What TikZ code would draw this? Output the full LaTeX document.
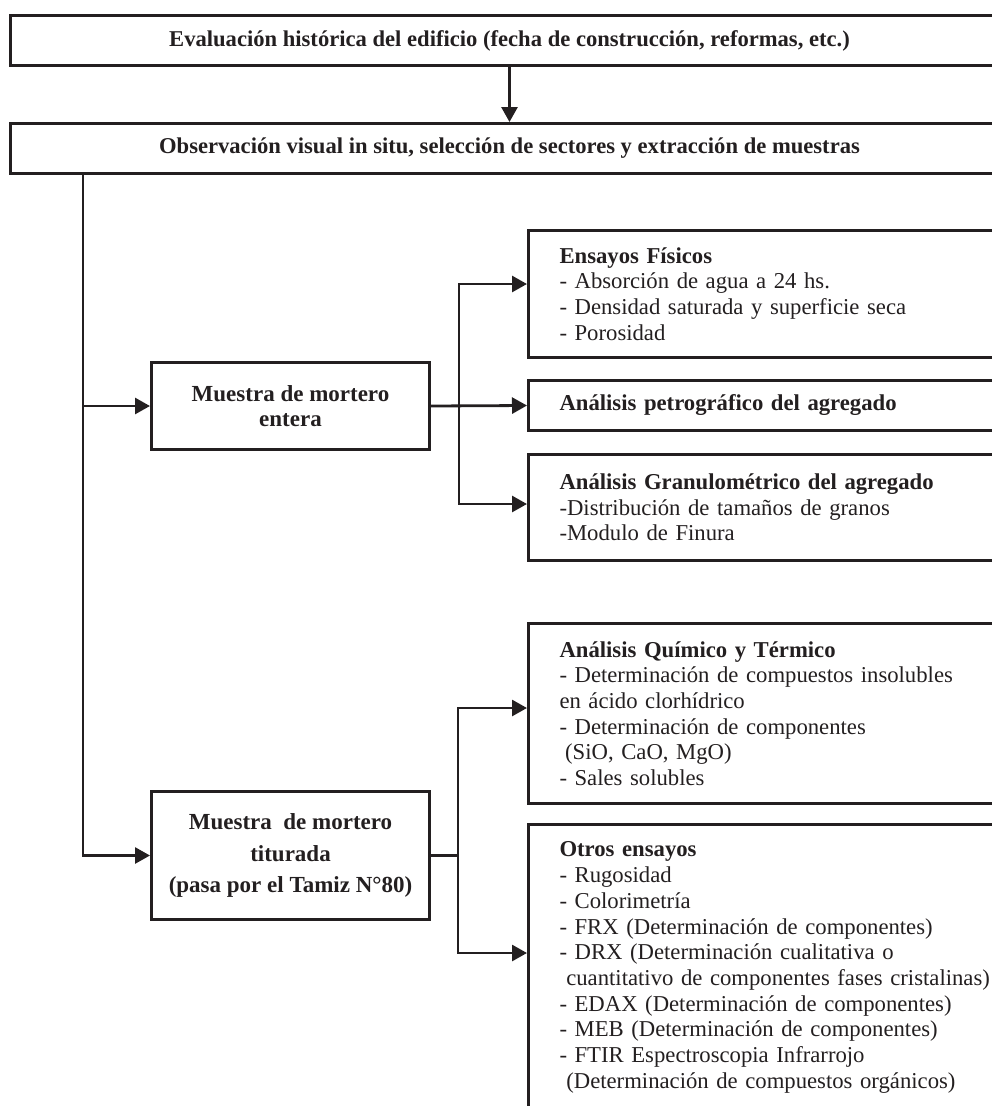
\documentclass[tikz,border=0pt]{standalone}
\usepackage{fontspec}
\setmainfont{Liberation Serif}
\usetikzlibrary{arrows.meta}
\definecolor{ink}{HTML}{231F20}
\begin{document}
\begin{tikzpicture}[x=1pt,y=-1pt,
  tipa/.tip={Triangle[length=15pt,width=16pt]},
  tbox/.style={draw=ink, text=ink, line width=3pt, inner sep=0pt, anchor=north west,
    font={\fontsize{22.6}{25.7}\selectfont\bfseries}},
  lbox/.style={draw=ink, text=ink, line width=3pt, inner sep=0pt, anchor=north west, align=center,
    minimum width=278pt},
  rbox/.style={draw=ink, text=ink, line width=3pt, anchor=north west, inner xsep=31pt, inner ysep=0pt,
    align=left, text width=471pt, minimum width=533pt,
    font={\fontsize{22.7}{25.7}\selectfont}},
  conn/.style={draw=ink, line width=2.8pt},
  arr/.style={conn, -{tipa}},
  arr2/.style={conn, {tipa}-{tipa}},
]
\useasboundingbox (0,0) rectangle (992,1106);
\clip (0,0) rectangle (992,1106);

% top boxes
\node[tbox, minimum width=998pt, minimum height=50pt] (eval) at (9,14)
  {Evaluación histórica del edificio (fecha de construcción, reformas, etc.)};
\node[tbox, minimum width=998pt, minimum height=50pt] (obs) at (9,122)
  {Observación visual in situ, selección de sectores y extracción de muestras};

% left boxes
\node[lbox, minimum height=87pt, font={\fontsize{23}{25.7}\selectfont\bfseries}] (ent) at (150,361)
  {Muestra de mortero\\entera};
\node[lbox, minimum height=128pt, font={\fontsize{23}{31.5}\selectfont\bfseries}] (tit) at (150,790)
  {Muestra\ \ de mortero\\titurada\\(pasa por el Tamiz N°80)};

% right boxes
\node[rbox, minimum height=127pt] (ens) at (527,229)
  {\textbf{Ensayos Físicos}\\- Absorción de agua a 24 hs.\\- Densidad saturada y superficie seca\\- Porosidad};
\node[rbox, minimum height=50pt] (pet) at (527,379)
  {\textbf{Análisis petrográfico del agregado}};
\node[rbox, minimum height=106pt] (gra) at (527,453)
  {\textbf{Análisis Granulométrico del agregado}\\-Distribución de tamaños de granos\\-Modulo de Finura};
\node[rbox, minimum height=180pt] (qui) at (527,622)
  {\textbf{Análisis Químico y Térmico}\\- Determinación de compuestos insolubles\\en ácido clorhídrico\\- Determinación de componentes\\\hspace*{0.25em}(SiO, CaO, MgO)\\- Sales solubles};
\node[rbox, minimum height=286pt, inner xsep=28pt] (otr) at (527,823)
  {\textbf{Otros ensayos}\\- Rugosidad\\- Colorimetría\\- FRX (Determinación de componentes)\\- DRX (Determinación cualitativa o\\\hspace*{0.3em}cuantitativo de componentes fases cristalinas)\\- EDAX (Determinación de componentes)\\- MEB (Determinación de componentes)\\- FTIR Espectroscopia Infrarrojo\\\hspace*{0.3em}(Determinación de compuestos orgánicos)};

% connector anchors
\coordinate (t) at (83,0);
\coordinate (b1) at (459,284);
\coordinate (b2) at (459,504);
\coordinate (c1) at (458,708);
\coordinate (c2) at (458,953);

\draw[arr] (eval) -- (obs);
\draw[arr] (obs.south -| t) |- (tit.west);
\draw[arr] (t |- ent.west) -- (ent.west);
\draw[arr] (ent.east) -- (pet.west);
\draw[arr2] (b1 -| ens.west) -- (b1) -- (b2) -- (b2 -| gra.west);
\draw[conn] (tit.east) -- (tit.east -| c1);
\draw[arr2] (c1 -| qui.west) -- (c1) -- (c2) -- (c2 -| otr.west);
\end{tikzpicture}
\end{document}
